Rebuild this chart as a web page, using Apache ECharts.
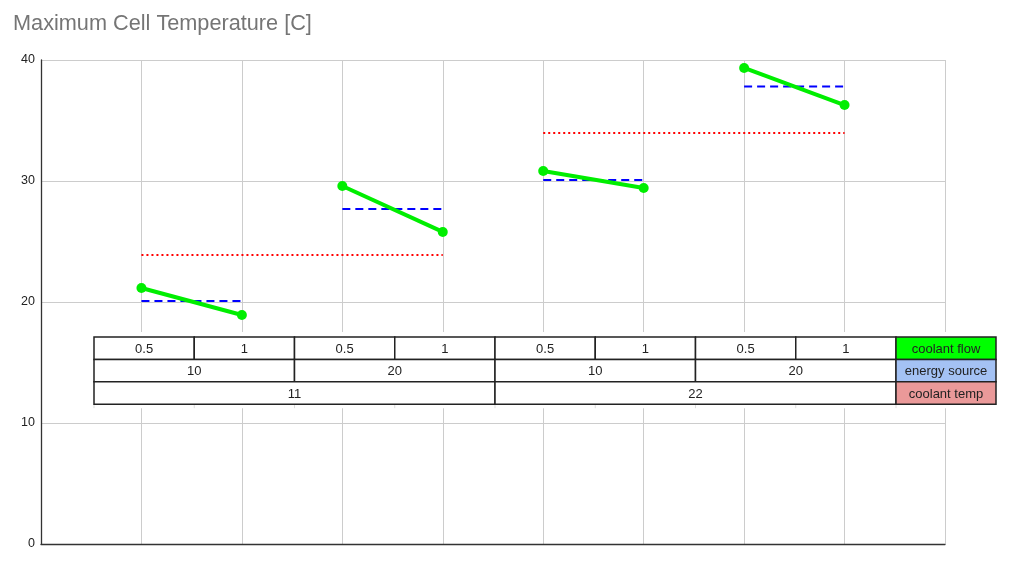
<!DOCTYPE html>
<html>
<head>
<meta charset="utf-8">
<script src="https://cdn.jsdelivr.net/npm/echarts@6/dist/echarts.min.js"></script>
<style>
html,body{margin:0;padding:0;background:#fff;}
#chart{width:1015px;height:568px;}
</style>
</head>
<body>
<div id="chart"></div>
<script>
// ---- data ----
var positions = [1, 2, 3, 4, 5, 6, 7, 8];
var maxTemp = [21.16, 18.93, 29.59, 25.79, 30.83, 29.42, 39.34, 36.28];
var energyMeans = [20.08, 27.69, 30.08, 37.80];   // per (coolant temp, energy source) group
var coolantTempMeans = [23.88, 33.97];             // per coolant temp group
var coolantFlowLabels = ['0.5', '1', '0.5', '1', '0.5', '1', '0.5', '1'];
var energySourceLabels = ['10', '20', '10', '20'];
var coolantTempLabels = ['11', '22'];
var rowNames = ['coolant flow', 'energy source', 'coolant temp'];
var rowColors = ['#00ff00', '#a4c2f4', '#ea9999'];
var yTicks = [0, 10, 20, 30, 40];

var chart = echarts.init(document.getElementById('chart'), null, {renderer: 'canvas'});

var series = [];
// coolant temp means (red dotted), span 4 positions
coolantTempMeans.forEach(function (v, g) {
  series.push({
    type: 'line', silent: true, symbol: 'none', z: 2,
    lineStyle: {color: '#ff0000', width: 2, type: [2, 3]},
    data: [[positions[g * 4], v], [positions[g * 4 + 3], v]]
  });
});
// energy source means (blue dashed), span 2 positions
energyMeans.forEach(function (v, g) {
  series.push({
    type: 'line', silent: true, symbol: 'none', z: 3,
    lineStyle: {color: '#0000ff', width: 2, type: [8, 5]},
    data: [[positions[g * 2], v], [positions[g * 2 + 1], v]]
  });
});
// measured values (green), pairs
for (var g = 0; g < 4; g++) {
  series.push({
    type: 'line', silent: true, z: 4,
    symbol: 'circle', symbolSize: 10,
    itemStyle: {color: '#00ee00'},
    lineStyle: {color: '#00ee00', width: 4},
    data: [[positions[g * 2], maxTemp[g * 2]], [positions[g * 2 + 1], maxTemp[g * 2 + 1]]]
  });
}

// ---- table (annotation) ----
var tLeft = 94, colW = 100.25, tTop = 337, rowH = 22.4, legW = 100;
var graphics = [];
var nCols = coolantFlowLabels.length;
graphics.push({
  type: 'rect', z: 100,
  shape: {x: tLeft - 4, y: tTop - 5, width: nCols * colW + legW + 8, height: rowH * 3 + 9},
  style: {fill: '#ffffff'}
});
// small tick marks below table
for (var i = 0; i <= nCols; i++) {
  graphics.push({
    type: 'line', z: 101,
    shape: {x1: tLeft + i * colW, y1: tTop + 3 * rowH, x2: tLeft + i * colW, y2: tTop + 3 * rowH + 4},
    style: {stroke: '#dddddd', lineWidth: 1}
  });
}
function cell(x, y, w, h, text, fill) {
  graphics.push({
    type: 'rect', z: 102,
    shape: {x: x, y: y, width: w, height: h},
    style: {fill: fill || '#ffffff', stroke: '#222222', lineWidth: 1.5}
  });
  graphics.push({
    type: 'text', z: 103,
    style: {
      x: x + w / 2, y: y + h / 2 + 1, text: text, align: 'center', verticalAlign: 'middle',
      fill: '#222222', font: '13px "Liberation Sans", Arial, sans-serif'
    }
  });
}
var rows = [coolantFlowLabels, energySourceLabels, coolantTempLabels];
rows.forEach(function (labels, r) {
  var span = nCols / labels.length;
  labels.forEach(function (t, c) {
    cell(tLeft + c * span * colW, tTop + r * rowH, span * colW, rowH, t);
  });
  cell(tLeft + nCols * colW, tTop + r * rowH, legW, rowH, rowNames[r], rowColors[r]);
});

chart.setOption({
  animation: false,
  backgroundColor: '#ffffff',
  title: {
    text: 'Maximum Cell Temperature [C]', left: 8, top: 8,
    textStyle: {color: '#757575', fontSize: 21.7, fontWeight: 'normal', fontFamily: '"Liberation Sans", Arial, sans-serif'}
  },
  grid: {left: 41, right: 70, top: 60, bottom: 24, containLabel: false},
  xAxis: {
    type: 'value', min: 0, max: 9, interval: 1,
    axisLabel: {show: false}, axisTick: {show: false},
    axisLine: {show: true, lineStyle: {color: '#333333', width: 1.3}},
    splitLine: {show: true, lineStyle: {color: '#cccccc', width: 1}}
  },
  yAxis: {
    type: 'value', min: yTicks[0], max: yTicks[yTicks.length - 1], interval: 10,
    axisTick: {show: false},
    axisLine: {show: true, lineStyle: {color: '#333333', width: 1.3}},
    axisLabel: {color: '#222222', fontSize: 12.5, margin: 6, fontFamily: '"Liberation Sans", Arial, sans-serif'},
    splitLine: {show: true, lineStyle: {color: '#cccccc', width: 1}}
  },
  series: series,
  graphic: graphics
});
</script>
</body>
</html>
